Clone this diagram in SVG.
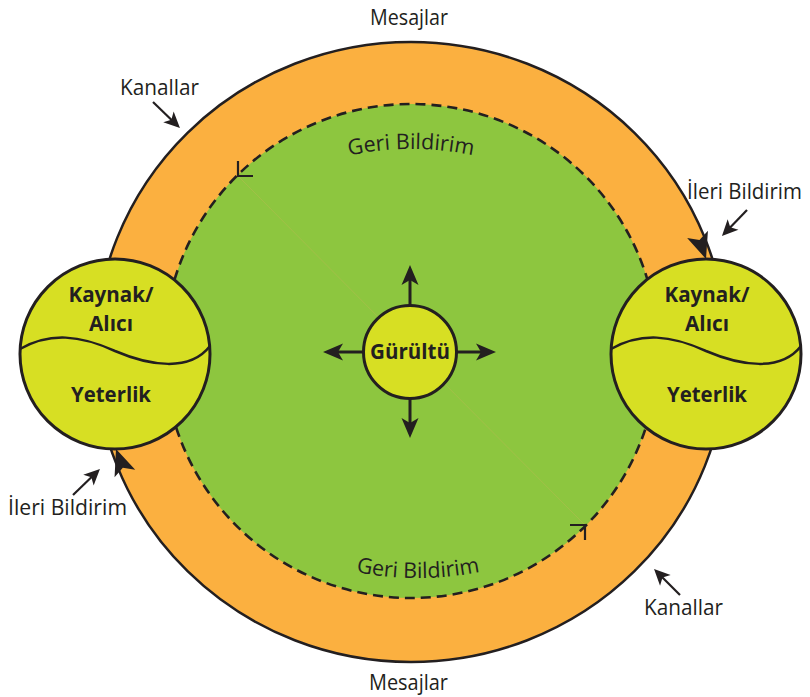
<svg xmlns="http://www.w3.org/2000/svg" xmlns:xlink="http://www.w3.org/1999/xlink" width="810" height="697" viewBox="0 0 810 697">
  <style>
    .lbl { font-family: "Open Sans", "Liberation Sans", sans-serif; font-size: 22px; fill: #231F20; }
    .bold { font-family: "Open Sans", "Liberation Sans", sans-serif; font-weight: 700; font-size: 22px; fill: #231F20; text-anchor: middle; }
    .geri { font-family: "Open Sans", "Liberation Sans", sans-serif; font-size: 21.5px; fill: #231F20; }
    .node { fill: #D7DF23; stroke: #231F20; stroke-width: 3; }
    .wave { fill: none; stroke: #231F20; stroke-width: 2.5; }
    .arr { stroke: #231F20; stroke-width: 3; fill: none; marker-end: url(#ah); }
    .sarr { stroke: #231F20; stroke-width: 2.2; fill: none; marker-end: url(#sah); }
  </style>
  <defs>
    <marker id="ah" markerUnits="userSpaceOnUse" orient="auto" refX="0" refY="0" markerWidth="1" markerHeight="1" overflow="visible">
      <path d="M10,0 L-10,-8.5 L-5,0 L-10,8.5 Z" fill="#231F20"/>
    </marker>
    <marker id="sah" markerUnits="userSpaceOnUse" orient="auto" refX="0" refY="0" markerWidth="1" markerHeight="1" overflow="visible">
      <path d="M8,0 L-8,-7.5 L-4,0 L-8,7.5 Z" fill="#231F20"/>
    </marker>
    <path id="ringHead" d="M0,0 L-26,-11 L-20,0 L-26,11 Z" fill="#231F20"/>
    <path id="arcTop" d="M111,449 A300,300 0 0 1 711,449" fill="none"/>
    <path id="arcBot" d="M98,258 A320,320 0 0 0 738,258" fill="none"/>
  </defs>

  <rect width="810" height="697" fill="#FFFFFF"/>

  <g id="channel-ring">
    <ellipse cx="411" cy="352" rx="316" ry="310" fill="#FBB040" stroke="#231F20" stroke-width="2.5"/>
  </g>

  <g id="feedback-area">
    <circle cx="411" cy="351" r="247" fill="#8DC63F" stroke="#231F20" stroke-width="2.6" stroke-dasharray="10 6"/>
    <line x1="238" y1="176" x2="585" y2="525" stroke="#C9B75A" stroke-width="0.6" opacity="0.6"/>
    <polyline points="238,161 238,176 253,176" fill="none" stroke="#231F20" stroke-width="2.2"/>
    <polyline points="570,525 585,525 585,540" fill="none" stroke="#231F20" stroke-width="2.2"/>
    <text class="geri"><textPath href="#arcTop" startOffset="50%" text-anchor="middle">Geri Bildirim</textPath></text>
    <text class="geri"><textPath href="#arcBot" startOffset="50%" text-anchor="middle">Geri Bildirim</textPath></text>
  </g>

  <g id="connectors">
    <use href="#ringHead" transform="translate(706,259) rotate(71)"/>
    <use href="#ringHead" transform="translate(116,449) rotate(250)"/>
    <line class="arr" x1="410" y1="305" x2="410" y2="275"/>
    <line class="arr" x1="410" y1="399" x2="410" y2="428"/>
    <line class="arr" x1="363" y1="352" x2="333" y2="352"/>
    <line class="arr" x1="457" y1="352" x2="486" y2="352"/>
    <line class="sarr" x1="153" y1="102" x2="174.2" y2="122.5"/>
    <line class="sarr" x1="747" y1="210" x2="727.5" y2="230.2"/>
    <line class="sarr" x1="73" y1="495" x2="94.2" y2="474.5"/>
    <line class="sarr" x1="680" y1="595" x2="659.7" y2="574.7"/>
  </g>

  <g id="node-left">
    <circle class="node" cx="115" cy="354" r="95"/>
    <path class="wave" d="M20,349 C50,332 80,335 115,351 C150,366 190,372 210,346"/>
    <text class="bold" x="111" y="302" textLength="85" lengthAdjust="spacingAndGlyphs">Kaynak/</text>
    <text class="bold" x="111" y="331" textLength="44" lengthAdjust="spacingAndGlyphs">Alıcı</text>
    <text class="bold" x="111" y="402" textLength="80" lengthAdjust="spacingAndGlyphs">Yeterlik</text>
  </g>

  <g id="node-right">
    <circle class="node" cx="706" cy="354" r="95"/>
    <path class="wave" d="M611,349 C641,332 671,335 706,351 C741,366 781,372 801,346"/>
    <text class="bold" x="707" y="302" textLength="85" lengthAdjust="spacingAndGlyphs">Kaynak/</text>
    <text class="bold" x="707" y="331" textLength="44" lengthAdjust="spacingAndGlyphs">Alıcı</text>
    <text class="bold" x="707" y="402" textLength="80" lengthAdjust="spacingAndGlyphs">Yeterlik</text>
  </g>

  <g id="node-noise">
    <circle class="node" cx="410" cy="352" r="46.5"/>
    <text class="bold" x="410" y="359" textLength="80" lengthAdjust="spacingAndGlyphs">Gürültü</text>
  </g>

  <g id="labels">
    <text class="lbl" x="370" y="25" textLength="78" lengthAdjust="spacingAndGlyphs">Mesajlar</text>
    <text class="lbl" x="369" y="690" textLength="79" lengthAdjust="spacingAndGlyphs">Mesajlar</text>
    <text class="lbl" x="120" y="95" textLength="79" lengthAdjust="spacingAndGlyphs">Kanallar</text>
    <text class="lbl" x="644" y="615" textLength="79" lengthAdjust="spacingAndGlyphs">Kanallar</text>
    <text class="lbl" x="687" y="199" textLength="115" lengthAdjust="spacingAndGlyphs">İleri Bildirim</text>
    <text class="lbl" x="8" y="515" textLength="119" lengthAdjust="spacingAndGlyphs">İleri Bildirim</text>
  </g>
</svg>
